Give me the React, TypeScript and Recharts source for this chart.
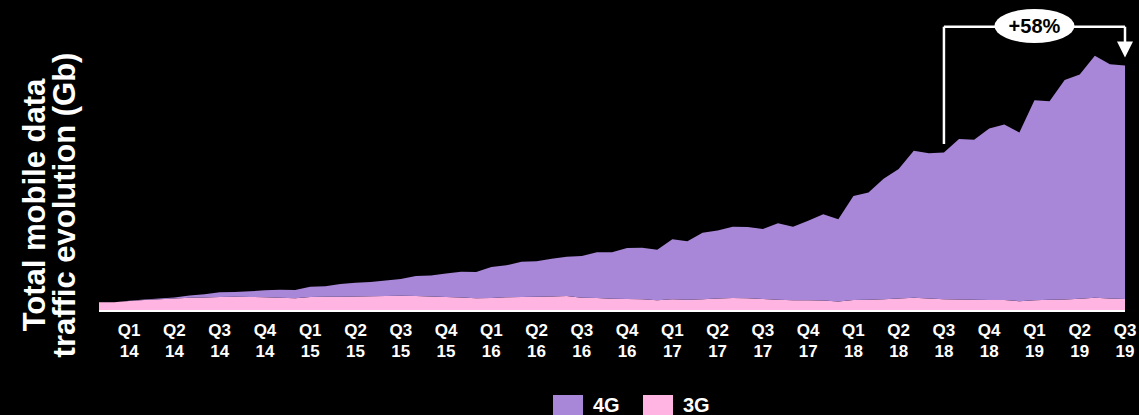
import React from 'react';
import { AreaChart, Area, XAxis, YAxis, ReferenceLine, ReferenceDot } from 'recharts';

const PURPLE = '#a886d8';
const PINK = '#ffb4e2';
const FONT = '"Liberation Sans", Arial, Helvetica, sans-serif';

// monthly categories, Jan 2014 to Sep 2019
const MONTHS = [
  'Jan 14', 'Feb 14', 'Mar 14', 'Apr 14', 'May 14', 'Jun 14', 'Jul 14', 'Aug 14', 'Sep 14', 'Oct 14', 'Nov 14', 'Dec 14',
  'Jan 15', 'Feb 15', 'Mar 15', 'Apr 15', 'May 15', 'Jun 15', 'Jul 15', 'Aug 15', 'Sep 15', 'Oct 15', 'Nov 15', 'Dec 15',
  'Jan 16', 'Feb 16', 'Mar 16', 'Apr 16', 'May 16', 'Jun 16', 'Jul 16', 'Aug 16', 'Sep 16', 'Oct 16', 'Nov 16', 'Dec 16',
  'Jan 17', 'Feb 17', 'Mar 17', 'Apr 17', 'May 17', 'Jun 17', 'Jul 17', 'Aug 17', 'Sep 17', 'Oct 17', 'Nov 17', 'Dec 17',
  'Jan 18', 'Feb 18', 'Mar 18', 'Apr 18', 'May 18', 'Jun 18', 'Jul 18', 'Aug 18', 'Sep 18', 'Oct 18', 'Nov 18', 'Dec 18',
  'Jan 19', 'Feb 19', 'Mar 19', 'Apr 19', 'May 19', 'Jun 19', 'Jul 19', 'Aug 19', 'Sep 19',
];

const TRAFFIC_3G = [
  8.7, 8.8, 10, 11, 11.7, 12.5, 13.2, 13.5, 14, 14.2, 14, 13.7,
  13.3, 12.7, 14, 14.2, 14.3, 14.5, 14.7, 15, 15.3, 15, 14.5, 14,
  13.5, 12.7, 13, 13.7, 14, 14.2, 14.5, 15, 13.3, 13, 12.3, 12,
  11.7, 10.7, 11.7, 11.3, 11.7, 12.5, 13, 12.7, 12, 11.3, 10.7, 10.7,
  10.5, 9.5, 11, 11.3, 11.8, 12.5, 13.2, 12.5, 11.7, 11.5, 11.3, 11,
  11, 9.8, 10.7, 11.2, 11.5, 12.2, 13.2, 12.5, 12,
];

const TRAFFIC_4G = [
  0, 0, 0.2, 0.4, 0.8, 1, 2.3, 3.2, 4.7, 4.8, 5.7, 7,
  7.9, 8.3, 10.2, 10.6, 12.7, 13.7, 14.3, 15.5, 16.7, 20, 21, 23.5,
  25.8, 26.3, 31, 32, 35.3, 35.5, 37.8, 39.3, 41.7, 45.7, 46.4, 51,
  51.6, 50.6, 60, 58.4, 66.6, 68, 71.3, 71.3, 70, 76.4, 73.6, 79.6,
  86.2, 82.2, 104, 107.2, 120.5, 129.5, 147.1, 145.2, 146.8, 160.5, 159.9, 171.5,
  175.5, 168.7, 200.1, 198.6, 219.5, 224.3, 242, 234.2, 233.5,
];

const QUARTER_TICKS = [
  'Mar 14', 'Jun 14', 'Sep 14', 'Dec 14', 'Mar 15', 'Jun 15', 'Sep 15', 'Dec 15',
  'Mar 16', 'Jun 16', 'Sep 16', 'Dec 16', 'Mar 17', 'Jun 17', 'Sep 17', 'Dec 17',
  'Mar 18', 'Jun 18', 'Sep 18', 'Dec 18', 'Mar 19', 'Jun 19', 'Sep 19',
];
const QUARTER_LABELS = [
  'Q1 14', 'Q2 14', 'Q3 14', 'Q4 14', 'Q1 15', 'Q2 15', 'Q3 15', 'Q4 15',
  'Q1 16', 'Q2 16', 'Q3 16', 'Q4 16', 'Q1 17', 'Q2 17', 'Q3 17', 'Q4 17',
  'Q1 18', 'Q2 18', 'Q3 18', 'Q4 18', 'Q1 19', 'Q2 19', 'Q3 19',
];

const data = MONTHS.map((m, i) => ({ month: m, g3: TRAFFIC_3G[i], g4: TRAFFIC_4G[i] }));

const QuarterTick = (props: any) => {
  const { x, y, payload } = props;
  const label = QUARTER_LABELS[QUARTER_TICKS.indexOf(payload.value)] || '';
  const [q, yr] = label.split(' ');
  return (
    <text x={x} y={y} textAnchor="middle" fill="#fff" fontSize={17} fontWeight={700} fontFamily={FONT}>
      <tspan x={x} dy={25}>{q}</tspan>
      <tspan x={x} dy={21}>{yr}</tspan>
    </text>
  );
};

const Bubble = (p: any) => (
  <g>
    <ellipse cx={p.cx} cy={p.cy} rx={40} ry={17} fill="#fff" />
    <text x={p.cx} y={p.cy + 7} textAnchor="middle" fill="#000" fontSize={20} fontWeight={700} fontFamily={FONT}>
      +58%
    </text>
  </g>
);

const ArrowHead = (p: any) => (
  <polygon points={`${p.cx - 8},${p.cy - 8} ${p.cx + 8},${p.cy - 8} ${p.cx},${p.cy + 8}`} fill="#fff" />
);

export default function App() {
  return (
    <div style={{ position: 'fixed', left: 0, top: 0, width: 1139, height: 415, background: '#000', fontFamily: FONT }}>
      <AreaChart width={1139} height={415} data={data} margin={{ top: 51, right: 14, bottom: 0, left: 99 }}>
        <XAxis
          dataKey="month"
          ticks={QUARTER_TICKS}
          interval={0}
          tick={<QuarterTick />}
          tickLine={false}
          tickSize={0}
          tickMargin={0}
          height={104}
          axisLine={{ stroke: '#fff', strokeWidth: 2 }}
        />
        <YAxis hide domain={[0, 260]} width={0} />
        <Area dataKey="g3" stackId="a" type="linear" fill={PINK} fillOpacity={1} stroke="none" isAnimationActive={false} />
        <Area dataKey="g4" stackId="a" type="linear" fill={PURPLE} fillOpacity={1} stroke="none" isAnimationActive={false} />
        <ReferenceLine
          segment={[{ x: 'Sep 18', y: 167 }, { x: 'Sep 18', y: 284.3 }]}
          stroke="#fff" strokeWidth={2.5} ifOverflow="visible"
        />
        <ReferenceLine
          segment={[{ x: 'Sep 18', y: 284.3 }, { x: 'Sep 19', y: 284.3 }]}
          stroke="#fff" strokeWidth={2.5} ifOverflow="visible"
        />
        <ReferenceLine
          segment={[{ x: 'Sep 19', y: 284.3 }, { x: 'Sep 19', y: 268 }]}
          stroke="#fff" strokeWidth={2.5} ifOverflow="visible"
        />
        <ReferenceDot x="Sep 19" y={261.5} ifOverflow="visible" shape={<ArrowHead />} />
        <ReferenceDot x="Mar 19" y={285} ifOverflow="visible" shape={<Bubble />} />
      </AreaChart>
      <svg width={1139} height={415} style={{ position: 'absolute', left: 0, top: 0, pointerEvents: 'none' }}>
        <g fill="#fff" fontFamily={FONT} fontWeight={700} fontSize={31} textAnchor="middle">
          <text transform="translate(45,205) rotate(-90)">Total mobile data</text>
          <text transform="translate(75,205) rotate(-90)">traffic evolution (Gb)</text>
        </g>
        <g fontFamily={FONT} fontWeight={700} fontSize={20} fill="#fff">
          <rect x={553} y={395} width={30} height={20} fill={PURPLE} />
          <text x={593} y={412}>4G</text>
          <rect x={643} y={395} width={30} height={20} fill={PINK} />
          <text x={683} y={412}>3G</text>
        </g>
      </svg>
    </div>
  );
}
